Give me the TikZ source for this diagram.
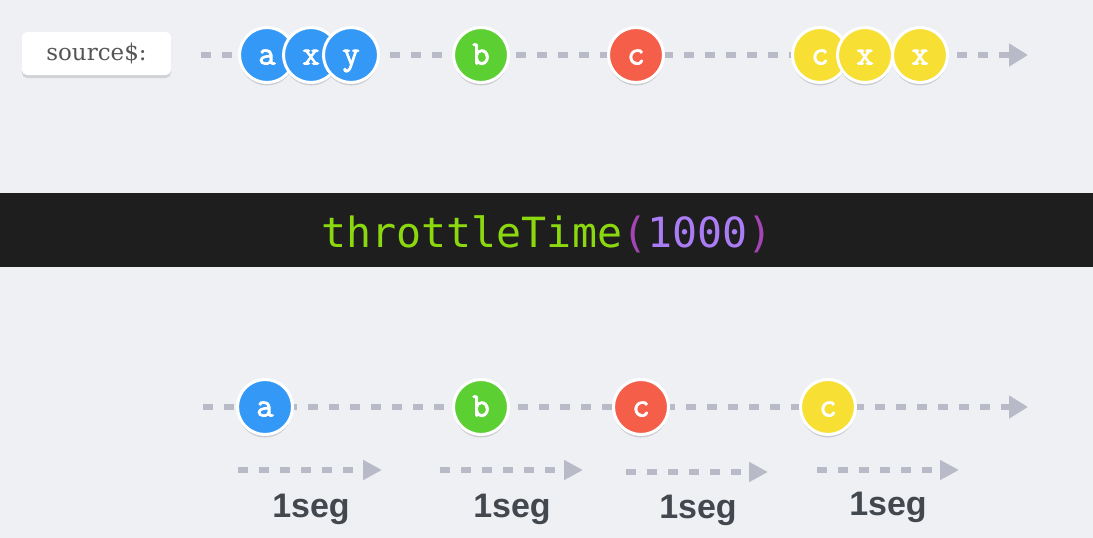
\documentclass[tikz,border=0pt]{standalone}
\usepackage{fontspec}
\usetikzlibrary{arrows.meta,shadows}
\newfontfamily\labelfont{DejaVu Serif}
\newfontfamily\codefont{DejaVu Sans Mono}
\newfontfamily\segfont{Liberation Sans}
\newfontfamily\marblefont[FakeBold=2.2]{Latin Modern Mono}
\definecolor{bgc}{HTML}{EFF0F4}
\definecolor{dashc}{HTML}{B9BAC8}
\definecolor{mblue}{HTML}{3398F6}
\definecolor{mgreen}{HTML}{5CCF33}
\definecolor{mred}{HTML}{F55E48}
\definecolor{myellow}{HTML}{F7DF33}
\definecolor{bandc}{HTML}{1E1E1E}
\definecolor{codegreen}{HTML}{8BD80F}
\definecolor{codeparen}{HTML}{A545B5}
\definecolor{codenum}{HTML}{AA7CF6}
\definecolor{segc}{HTML}{43474E}
\definecolor{srcc}{HTML}{555555}
\tikzset{
  marble/.style={circle, minimum size=55pt, inner sep=0pt, draw=white,
    line width=3pt, text=white, text height=19pt, text depth=0pt,
    font=\marblefont\bfseries\fontsize{34}{34}\selectfont,
    drop shadow={shadow xshift=0pt, shadow yshift=-3pt, opacity=0.15, fill=black}},
  stream/.style={draw=dashc, line width=5.5pt, dash pattern=on 10pt off 11pt,
    -{Triangle[length=19pt,width=22pt]}},
  window/.style={draw=dashc, line width=5.5pt, dash pattern=on 10pt off 11pt,
    -{Triangle[length=19pt,width=19pt]}},
  seglabel/.style={anchor=base, text=segc, inner sep=0pt,
    font=\segfont\bfseries\fontsize{34}{34}\selectfont},
  srcbox/.style={fill=white, rounded corners=5pt, minimum width=149pt,
    minimum height=43pt, inner sep=0pt, text=srcc,
    font=\labelfont\fontsize{23}{23}\selectfont,
    drop shadow={shadow xshift=0pt, shadow yshift=-3pt, opacity=0.12, fill=black}},
}
\begin{document}
\begin{tikzpicture}[x=1pt,y=-1pt]
\fill[bgc] (0,0) rectangle (1093,538);
\useasboundingbox (0,0) rectangle (1093,538);

% source stream
\node[srcbox] (src) at (96.5,53.5) {source\$:};
\coordinate (in0) at (201,55);
\coordinate (in1) at (1028,55);
\draw[stream] (in0) -- (in1);
\node[marble, fill=mblue]   (ia)  at (267,55) {a};
\node[marble, fill=mblue]   (ix)  at (311,55) {x};
\node[marble, fill=mblue]   (iy)  at (351,55) {y};
\node[marble, fill=mgreen]  (ib)  at (481,55) {b};
\node[marble, fill=mred]    (ic)  at (636,55) {c};
\node[marble, fill=myellow] (ic2) at (820,55) {c};
\node[marble, fill=myellow] (ix2) at (865,55) {x};
\node[marble, fill=myellow] (ix3) at (920,55) {x};

% operator band
\fill[bandc] (0,193) rectangle (1093,267);
\node[anchor=base, inner sep=0pt, font=\codefont\fontsize{41.6}{41.6}\selectfont] (op) at (547,247)
  {\textcolor{codegreen}{throttleTime}\textcolor{codeparen}{(}\textcolor{codenum}{1000}\textcolor{codeparen}{)}};

% output stream
\coordinate (out0) at (203,407);
\coordinate (out1) at (1028,407);
\draw[stream] (out0) -- (out1);
\node[marble, fill=mblue]   (oa) at (265,407) {a};
\node[marble, fill=mgreen]  (ob) at (481,407) {b};
\node[marble, fill=mred]    (oc) at (641,407) {c};
\node[marble, fill=myellow] (od) at (828,407) {c};

% throttle windows
\coordinate (w1s) at (238,470); \coordinate (w1e) at (382,470);
\coordinate (w2s) at (440,470); \coordinate (w2e) at (583,470);
\coordinate (w3s) at (626,472); \coordinate (w3e) at (768,472);
\coordinate (w4s) at (817,470); \coordinate (w4e) at (959,470);
\draw[window] (w1s) -- (w1e);
\draw[window] (w2s) -- (w2e);
\draw[window] (w3s) -- (w3e);
\draw[window] (w4s) -- (w4e);
\node[seglabel] (l1) at (311,517) {1seg};
\node[seglabel] (l2) at (512,517) {1seg};
\node[seglabel] (l3) at (698,518) {1seg};
\node[seglabel] (l4) at (888,515) {1seg};
\end{tikzpicture}
\end{document}
